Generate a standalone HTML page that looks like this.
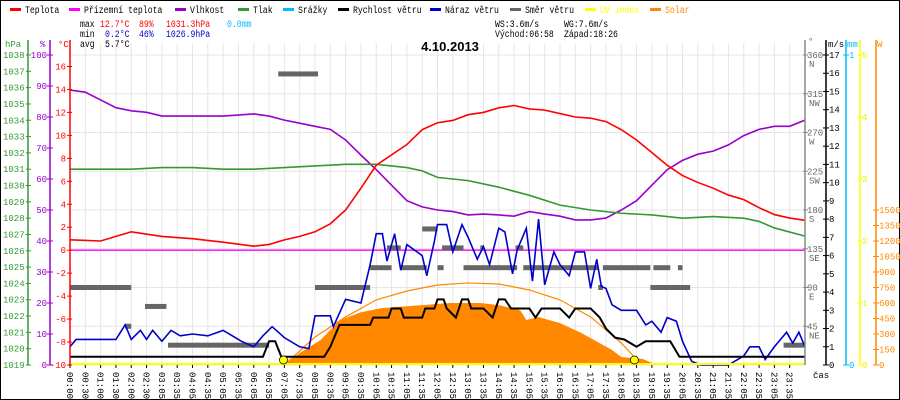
<!DOCTYPE html>
<html><head><meta charset="utf-8"><style>
html,body{margin:0;padding:0;background:#fff}
svg{display:block;font-family:"Liberation Mono",monospace}
</style></head><body>
<svg id="chart" width="900" height="400" viewBox="0 0 900 400" xmlns="http://www.w3.org/2000/svg">
<rect x="0.5" y="0.5" width="899" height="399" fill="#fff" stroke="#000"/>
<g id="grid"></g>
<g id="legend" font-size="10"></g>
<g font-size="10">
<text class="px" x="80" y="27" fill="#000">max</text><text class="px" x="100" y="27" fill="#f00">12.7°C</text><text class="px" x="139" y="27" fill="#f00">89%</text><text class="px" x="166" y="27" fill="#f00">1031.3hPa</text><text class="px" x="227" y="27" fill="#0bf">0.0mm</text>
<text class="px" x="80" y="37" fill="#000">min</text><text class="px" x="105" y="37" fill="#00c">0.2°C</text><text class="px" x="139" y="37" fill="#00c">46%</text><text class="px" x="166" y="37" fill="#00c">1026.9hPa</text>
<text class="px" x="80" y="47" fill="#000">avg</text><text class="px" x="105" y="47" fill="#000">5.7°C</text>
<text class="px" x="495" y="27">WS:3.6m/s</text><text class="px" x="564" y="27">WG:7.6m/s</text>
<text class="px" x="495" y="37">Východ:06:58</text><text class="px" x="564" y="37">Západ:18:26</text>
</g>
<text x="450" y="51" text-anchor="middle" font-size="13" font-weight="bold" font-family="Liberation Sans, sans-serif">4.10.2013</text>
<g id="plot"></g>
<g id="axes" font-size="9"></g>
</svg>
<script>
const NS='http://www.w3.org/2000/svg';
const X0=70,X1=805,YT=55,YB=365;
const xs=h=>X0+h*(X1-X0)/24;
const yT=t=>YB-(t+10)*(YB-YT)/27;
const yH=v=>YB-v*(YB-YT)/100;
const yP=p=>YB-(p-1019)*(YB-YT)/19;
const yW=v=>YB-v*(YB-YT)/17;
const yD=d=>YB-d*(YB-YT)/360;
const yS=w=>YB-w*155/1500;

const tempTimes=[0,1,1.5,2,3,4,5,6,6.5,7,7.5,8,8.5,9,9.5,10,10.5,11,11.5,12,12.5,13,13.5,14,14.5,15,15.5,16,16.5,17,17.5,18,18.5,19,19.5,20,20.5,21,21.5,22,22.5,23,23.5,24];
const tempVals=[0.9,0.8,1.2,1.6,1.2,1.0,0.7,0.35,0.5,0.9,1.2,1.6,2.3,3.5,5.4,7.4,8.3,9.2,10.5,11.1,11.3,11.8,12.0,12.4,12.6,12.3,12.2,11.9,11.6,11.5,11.2,10.5,9.6,8.5,7.4,6.5,5.9,5.4,4.8,4.4,3.7,3.1,2.8,2.6];
const humTimes=[0,0.5,1,1.5,2,2.5,3,4,5,6,6.5,7,7.5,8,8.5,9,9.5,10,10.5,11,11.5,12,12.5,13,13.5,14,14.5,15,15.5,16,16.5,17,17.5,18,18.5,19,19.5,20,20.5,21,21.5,22,22.5,23,23.5,24];
const humVals=[88.7,88,85.5,83,82,81.5,80.3,80.3,80.3,81,80.3,79,78,77,76,72.6,67.7,63,58,53,51,50,49.5,48.4,48.7,48.4,48,49.5,48.7,48,46.8,46.8,47.4,50,53,58,63,66,68,69,71,74,76,77,77,79];
const presTimes=[0,2,3,4,5,6,7,8,9,10,11,11.5,12,13,14,15,16,17,18,19,20,21,22,22.5,23,24];
const presVals=[1031.0,1031.0,1031.1,1031.1,1031.0,1031.0,1031.1,1031.2,1031.3,1031.3,1031.1,1030.9,1030.5,1030.3,1029.9,1029.4,1028.8,1028.5,1028.3,1028.2,1028.0,1028.1,1028.0,1027.8,1027.4,1026.9];
const gustTimes=[0,0.2,0.6,1,1.5,1.8,2,2.3,2.5,2.7,3,3.3,3.6,4,4.5,5,5.3,5.6,6,6.3,6.6,7,7.5,7.8,8,8.5,8.6,9,9.5,9.8,10,10.2,10.35,10.6,10.8,11,11.5,11.65,11.9,12,12.3,12.5,12.8,13,13.3,13.5,13.7,14,14.2,14.45,14.6,14.9,15.1,15.3,15.5,15.8,16,16.3,16.5,16.8,17,17.2,17.35,17.5,17.7,18,18.5,18.8,19,19.3,19.5,19.8,20,20.3,20.6,21.5,22,22.2,22.5,22.7,23,23.2,23.4,23.6,23.8,24];
const gustVals=[1.0,1.4,1.4,1.4,1.4,2.2,1.4,1.9,1.4,1.9,1.3,1.9,1.6,1.7,1.6,1.9,1.6,1.3,1.0,1.6,2.1,1.5,1.0,0.9,2.7,2.7,2.1,3.6,3.4,5.5,7.2,7.2,5.7,7.2,5.2,6.6,6.0,4.9,6.8,7.7,7.7,6.2,7.7,7.0,5.8,6.5,5.5,7.5,7.3,5.0,6.3,7.5,4.6,8.0,4.4,6.2,5.5,4.9,6.2,6.2,4.2,5.8,4.3,4.2,3.3,3.0,3.0,2.2,2.4,1.8,2.6,2.4,1.3,0.2,0,0,0.5,1.0,1.0,0.3,1.0,1.4,1.8,1.2,1.8,1.0];
const windTimes=[0,6.3,6.5,6.7,6.9,8.3,8.5,8.8,9.8,9.9,10.4,10.5,10.8,10.9,11.5,11.6,11.9,12,12.2,12.3,12.6,12.8,13,13.1,13.5,13.8,14,14.2,14.4,15,15.2,15.4,16,16.3,16.5,17,17.3,17.5,17.8,18.1,18.5,18.8,19.6,19.9,24];
const windVals=[0.45,0.45,1.3,1.3,0.45,0.45,1.0,2.2,2.2,2.6,2.6,3.1,3.1,2.6,2.6,3.1,3.1,3.6,3.6,3.1,2.6,3.6,3.6,3.1,3.1,2.6,3.6,3.6,3.1,3.1,2.6,3.1,3.1,2.6,3.1,3.1,2.6,2.0,1.5,1.4,1.0,1.3,1.3,0.45,0.45];
const dirStart=[0,1.8,2.45,3.2,6.8,8.0,9.8,10.8,12.0,12.85,14.8,17.4,19.05,19.85,10.35,12.15,13.4,14.55,11.5,17.25,18.95,23.3];
const dirEnd=[2.0,2.0,3.15,6.5,8.1,9.8,10.5,11.65,12.2,14.6,17.25,18.95,19.6,20.0,10.8,12.85,13.5,14.8,12.0,17.4,20.25,24];
const dirVals=[90,45,68,23,338,90,113,113,113,113,113,113,113,113,136,136,136,136,158,90,90,23];
const solarTimes=[7,7.5,8.17,8.83,9.5,10.17,11.5,12.4,13.4,14,14.7,14.9,15.3,16,16.7,17,17.3,17.7,18,18.7,19,19.1];
const solarVals=[0,116,240,435,510,550,580,600,600,580,530,435,465,405,310,260,210,145,77,58,20,0];
const theoTimes=[7,8,9,10,11,12,13,14,15,16,17,18,18.67];
const theoVals=[0,271,465,630,716,774,794,784,726,630,465,213,0];
const sunMarks=[6.97,18.43];
const hpaTicks=[1019,1020,1021,1022,1023,1024,1025,1026,1027,1028,1029,1030,1031,1032,1033,1034,1035,1036,1037,1038];
const humTicks=[0,10,20,30,40,50,60,70,80,90,100];
const tempTicks=[-10,-8,-6,-4,-2,0,2,4,6,8,10,12,14,16];
const dirTicks=[[45,'NE'],[90,'E'],[135,'SE'],[180,'S'],[225,'SW'],[270,'W'],[315,'NW'],[360,'N']];
const msTicks=[0,1,2,3,4,5,6,7,8,9,10,11,12,13,14,15,16,17];
const uvTicks=[0,1,2,3,4,5];
const wTicks=[0,150,300,450,600,750,900,1050,1200,1350,1500];
const timeLabels=['00:00','00:30','01:00','01:30','02:00','02:30','03:05','03:35','04:05','04:35','05:05','05:35','06:05','06:35','07:05','07:35','08:05','08:35','09:05','09:35','10:05','10:35','11:05','11:35','12:05','12:35','13:05','13:35','14:05','14:35','15:05','15:35','16:05','16:35','17:05','17:35','18:05','18:35','19:05','19:35','20:05','20:35','21:05','21:35','22:05','22:35','23:05','23:35'];

function mk(tag,attrs,parent){const e=document.createElementNS(NS,tag);for(const k in attrs)e.setAttribute(k,attrs[k]);parent.appendChild(e);return e;}
const grid=document.getElementById('grid'),plot=document.getElementById('plot'),axes=document.getElementById('axes'),legend=document.getElementById('legend');

for(let i=0;i<=48;i++){const x=X0+i*(X1-X0)/48;const l=mk('line',{x1:x,x2:x,y1:YT-12,y2:YB,stroke:'#e8e4e4'},grid);}
for(let i=0;i<=8;i++){const y=YT+i*(YB-YT)/8;const l=mk('line',{x1:X0,x2:X1,y1:y,y2:y,stroke:'#e8e4e4'},grid);}

const legItems=[['Teplota','#f00',10],['Přízemní teplota','#f0f',69],['Vlhkost','#90c',175],['Tlak','#393',238],['Srážky','#0bf',283],['Rychlost větru','#000',338],['Náraz větru','#00c',430],['Směr větru','#666',510],['UV index','#ff0',585],['Solar','#f80',650]];
legItems.forEach(it=>{const g=mk('g',{},legend);
mk('rect',{x:it[2],y:8,width:11,height:3,fill:it[1]},g);const t=mk('text',{x:it[2]+15,y:13,fill:(it[0]==='UV index'||it[0]==='Solar')?it[1]:'#000','class':'px'},g);t.textContent=it[0];});
document.querySelectorAll('text.px').forEach(t=>{t.setAttribute('textLength',t.textContent.length*4.9);t.setAttribute('lengthAdjust','spacingAndGlyphs');});

let d='M'+xs(solarTimes[0])+','+YB;solarTimes.forEach((t,i)=>d+=' L'+xs(t)+','+yS(solarVals[i]));d+=' L'+xs(solarTimes[solarTimes.length-1])+','+YB+' Z';
let e=mk('path',{d:d,fill:'#f80'},plot);
function line(ts,vs,fy,col,w,name){const p=ts.map((t,i)=>xs(t)+','+fy(vs[i])).join(' ');const el=mk('polyline',{points:p,fill:'none',stroke:col,'stroke-width':w},plot);}
line(theoTimes,theoVals,yS,'#f80',1.2,'theoretical-solar-line');
e=mk('line',{x1:X0,x2:X1,y1:yT(0),y2:yT(0),stroke:'#f0f','stroke-width':1.3},plot);
dirVals.forEach((v,i)=>{const r=mk('rect',{x:xs(dirStart[i]),y:yD(v)-2.5,width:xs(dirEnd[i])-xs(dirStart[i]),height:5,fill:'#666'},plot);});
line(humTimes,humVals,yH,'#90c',1.6,'humidity-line');
line(presTimes,presVals,yP,'#393',1.6,'pressure-line');
line(tempTimes,tempVals,yT,'#f00',1.6,'temperature-line');
line(gustTimes,gustVals,yW,'#00c',1.6,'wind-gust-line');
line(windTimes,windVals,yW,'#000',2,'wind-speed-line');
e=mk('line',{x1:X0,x2:X1,y1:YB-1,y2:YB-1,stroke:'#ff0','stroke-width':2},plot);
sunMarks.forEach(t=>{const c=mk('circle',{cx:xs(t),cy:YB-5,r:4,fill:'#ff0',stroke:'#000','stroke-width':0.7},plot);});

function vaxis(x,col,name){const l=mk('line',{x1:x,x2:x,y1:YT-15,y2:YB,stroke:col,'stroke-width':1.5},axes);}
function txt(x,y,s,col,anchor){const t=mk('text',{x:x,y:y,fill:col,'text-anchor':anchor||'start'},axes);t.textContent=s;return t;}
vaxis(28,'#393','pressure-axis');vaxis(50,'#90c','humidity-axis');vaxis(X0,'#f00','temperature-axis');
vaxis(X1,'#888','direction-axis');vaxis(826,'#000','wind-axis');vaxis(846,'#0bf','rain-axis');vaxis(860,'#ff0','uv-axis');vaxis(876,'#f80','solar-axis');
hpaTicks.forEach(v=>{const y=yP(v);mk('line',{x1:26,x2:31,y1:y,y2:y,stroke:'#393'},axes);txt(3,y+3,String(v),'#393');});
humTicks.forEach(v=>{const y=yH(v);mk('line',{x1:47,x2:53,y1:y,y2:y,stroke:'#90c'},axes);txt(47,y+3,String(v),'#90c','end');});
tempTicks.forEach(v=>{const y=yT(v);mk('line',{x1:67,x2:72,y1:y,y2:y,stroke:'#f00'},axes);txt(66,y+3,String(v),'#f00','end');});
dirTicks.forEach(v=>{const y=yD(v[0]);mk('line',{x1:803,x2:808,y1:y,y2:y,stroke:'#888'},axes);txt(807,y+3,String(v[0]),'#666');txt(809,y+12,v[1],'#666');});
msTicks.forEach(v=>{const y=yW(v);mk('line',{x1:823,x2:829,y1:y,y2:y,stroke:'#000'},axes);txt(829,y+3,String(v),'#000');});
[0,1].forEach(v=>{const y=YB-v*(YB-YT);mk('line',{x1:843,x2:849,y1:y,y2:y,stroke:'#0bf'},axes);txt(849,y+3,String(v),'#0bf');});
uvTicks.forEach(v=>{const y=YB-v*(YB-YT)/5;mk('line',{x1:857,x2:863,y1:y,y2:y,stroke:'#ff0'},axes);txt(862,y+3,String(v),'#ee0');});
wTicks.forEach(v=>{const y=yS(v);mk('line',{x1:873,x2:879,y1:y,y2:y,stroke:'#f80'},axes);txt(879,y+3,String(v),'#f80');});
txt(5,47,'hPa','#393');txt(40,47,'%','#90c');txt(58,47,'°C','#f00');txt(808,44,'°','#666');txt(828,47,'m/s','#000');txt(847,47,'mm','#0bf');txt(877,47,'W','#f80');
txt(813,378,'čas','#000');
timeLabels.forEach((s,i)=>{const x=X0+i*(X1-X0)/48;mk('line',{x1:x,x2:x,y1:YB,y2:YB+3,stroke:'#000'},axes);const t=mk('text',{x:0,y:0,transform:'translate('+(x-3)+',372) rotate(90)','font-size':'9'},axes);t.textContent=s;});
</script>
</body></html>
